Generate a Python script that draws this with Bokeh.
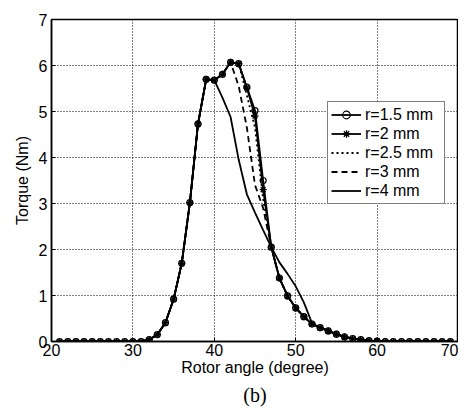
from bokeh.plotting import figure
from bokeh.models import Range1d, FixedTicker, Title, Legend, LegendItem
from bokeh.embed import file_html
from bokeh.resources import INLINE

angle = list(range(21, 70))

zeros_head = [0.0] * 11  # 21..31
tail = [0.73, 0.54, 0.38, 0.30, 0.23, 0.16, 0.10, 0.065, 0.04, 0.02, 0.01,
        0, 0, 0, 0, 0, 0, 0, 0, 0]  # 50..69

rise = [0.04, 0.15, 0.41, 0.92, 1.70, 3.02, 4.73, 5.70, 5.68]  # 32..40

t_r15 = zeros_head + rise + [5.81, 6.07, 6.04, 5.53, 5.02, 3.50, 2.05, 1.38, 0.99] + tail
t_r2 = zeros_head + rise + [5.81, 6.07, 6.04, 5.51, 4.90, 3.30, 2.05, 1.38, 0.99] + tail
t_r25 = zeros_head + rise + [5.81, 6.07, 6.04, 5.35, 4.65, 3.10, 2.05, 1.38, 0.99] + tail
t_r3 = zeros_head + rise + [5.81, 6.07, 5.55, 4.65, 3.40, 2.90, 2.05, 1.38, 0.99] + tail
t_r4 = zeros_head + rise + [5.30, 4.88, 3.95, 3.20, 2.80, 2.42, 2.05, 1.72, 1.47] + \
    [1.20, 0.85, 0.40] + tail[3:]

labels = ["r=1.5 mm", "r=2 mm", "r=2.5 mm", "r=3 mm", "r=4 mm"]
x_ticks = [20, 30, 40, 50, 60, 70]
y_ticks = [0, 1, 2, 3, 4, 5, 6, 7]

FONT = "Liberation Sans"

p = figure(width=458, height=411, output_backend="svg", toolbar_location=None,
           x_range=Range1d(20, 70), y_range=Range1d(0, 7),
           min_border_left=51, min_border_right=0, min_border_top=19,
           min_border_bottom=70)

p.outline_line_color = "black"
p.outline_line_width = 1.5
p.background_fill_color = "white"
p.border_fill_color = "white"

for ax in (p.xaxis[0], p.yaxis[0]):
    ax.axis_line_color = "black"
    ax.axis_line_width = 1.5
    ax.major_tick_in = 4
    ax.major_tick_out = 0
    ax.minor_tick_line_color = None
    ax.major_label_text_font = FONT
    ax.major_label_text_font_size = "16px"
    ax.major_label_text_color = "black"
    ax.axis_label_text_font = FONT
    ax.axis_label_text_font_size = "16px"
    ax.axis_label_text_font_style = "normal"
    ax.axis_label_text_color = "black"

p.xaxis.ticker = FixedTicker(ticks=x_ticks)
p.yaxis.ticker = FixedTicker(ticks=y_ticks)
p.xaxis.axis_label = "Rotor angle (degree)"
p.yaxis.axis_label = "Torque (Nm)"
p.xaxis.major_label_standoff = 2
p.xaxis.axis_label_standoff = 0
p.yaxis.major_label_standoff = 4
p.yaxis.axis_label_standoff = 5

p.grid.grid_line_color = "black"
p.grid.grid_line_dash = "1 2"
p.grid.grid_line_width = 1
p.grid.grid_line_alpha = 1.0

LW = 1.8
l4 = p.line(angle, t_r4, line_color="black", line_width=LW)
l3 = p.line(angle, t_r3, line_color="black", line_width=LW, line_dash="6 4")
l25 = p.line(angle, t_r25, line_color="black", line_width=LW, line_dash="2 3")
l2 = p.line(angle, t_r2, line_color="black", line_width=LW)
s2 = p.scatter(angle, t_r2, marker="asterisk", size=7, line_color="black", line_width=1.3)
l15 = p.line(angle, t_r15, line_color="black", line_width=LW)
s15 = p.scatter(angle, t_r15, marker="circle", size=6, line_color="black",
                fill_alpha=0, line_width=1.2)

legend = Legend(items=[
    LegendItem(label=labels[0], renderers=[l15, s15]),
    LegendItem(label=labels[1], renderers=[l2, s2]),
    LegendItem(label=labels[2], renderers=[l25]),
    LegendItem(label=labels[3], renderers=[l3]),
    LegendItem(label=labels[4], renderers=[l4]),
], location=(276, 137))
legend.border_line_color = "black"
legend.border_line_width = 1.5
legend.background_fill_color = "white"
legend.background_fill_alpha = 1
legend.label_text_font = FONT
legend.label_text_font_size = "16px"
legend.label_text_color = "black"
legend.glyph_width = 30
legend.glyph_height = 19
legend.label_height = 19
legend.label_width = 76
legend.label_standoff = 4
legend.spacing = 0
legend.padding = 3
legend.margin = 0
p.add_layout(legend, "center")

p.add_layout(Title(text="(b)", align="center", text_font="Liberation Serif",
                   text_font_size="20px", text_font_style="normal",
                   text_color="black", standoff=6), "below")

open("out.html", "w").write(file_html(p, INLINE))
